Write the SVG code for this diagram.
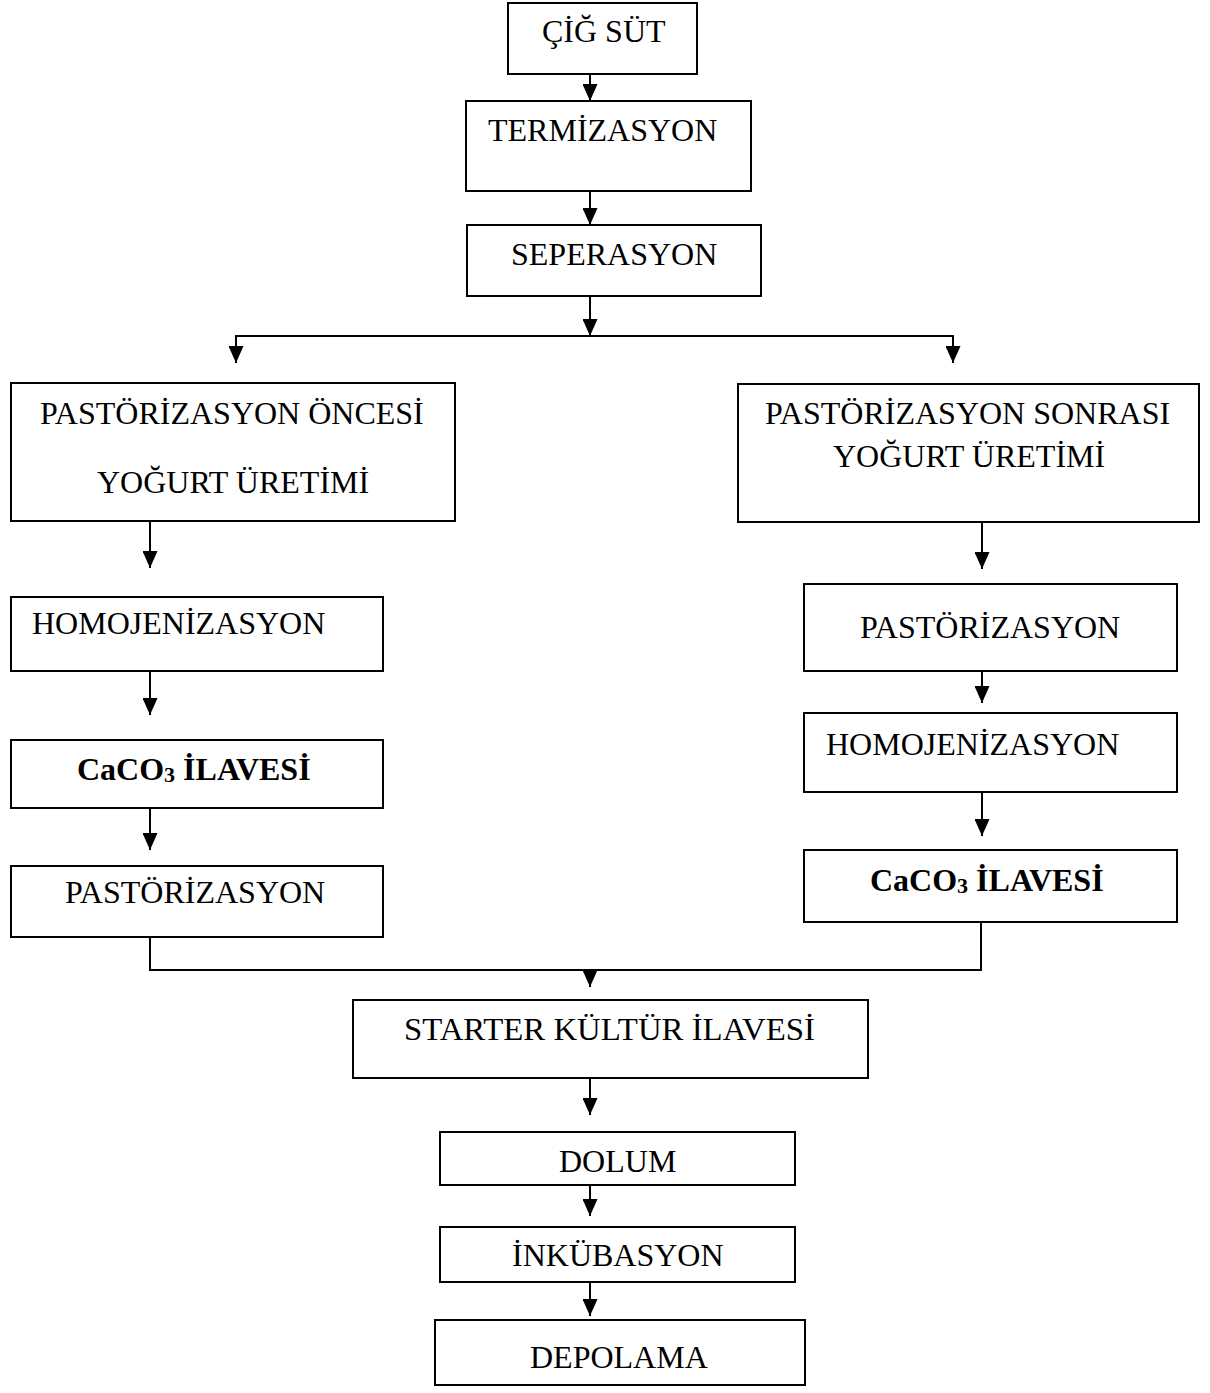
<svg xmlns="http://www.w3.org/2000/svg" width="1210" height="1393" viewBox="0 0 1210 1393">
<style>
.box{fill:#fff;stroke:#000;stroke-width:2}
.t{font-family:"Liberation Serif","Times New Roman",serif;font-size:32px;fill:#000}
.b{font-weight:bold}
.c{fill:none;stroke:#000;stroke-width:2}
</style>
<defs>
<marker id="ah" viewBox="0 0 17 15" refX="17" refY="7.5" markerWidth="17" markerHeight="15" markerUnits="userSpaceOnUse" orient="auto">
<path d="M0,0 L17,7.5 L0,15 Z" fill="#000"/>
</marker>
</defs>
<rect width="1210" height="1393" fill="#fff"/>
<g id="connectors">
<line class="c" x1="590" y1="74" x2="590" y2="101" marker-end="url(#ah)"/>
<line class="c" x1="590" y1="191" x2="590" y2="225" marker-end="url(#ah)"/>
<line class="c" x1="590" y1="296" x2="590" y2="336" marker-end="url(#ah)"/>
<polyline class="c" points="236,336 953,336"/>
<line class="c" x1="236" y1="335" x2="236" y2="363" marker-end="url(#ah)"/>
<line class="c" x1="953" y1="335" x2="953" y2="363" marker-end="url(#ah)"/>
<line class="c" x1="150" y1="521" x2="150" y2="568" marker-end="url(#ah)"/>
<line class="c" x1="150" y1="671" x2="150" y2="715" marker-end="url(#ah)"/>
<line class="c" x1="150" y1="808" x2="150" y2="850" marker-end="url(#ah)"/>
<line class="c" x1="982" y1="522" x2="982" y2="569" marker-end="url(#ah)"/>
<line class="c" x1="982" y1="671" x2="982" y2="703" marker-end="url(#ah)"/>
<line class="c" x1="982" y1="792" x2="982" y2="836" marker-end="url(#ah)"/>
<polyline class="c" points="150,937 150,970 981,970 981,922"/>
<line class="c" x1="590" y1="970" x2="590" y2="987" marker-end="url(#ah)"/>
<line class="c" x1="590" y1="1078" x2="590" y2="1115" marker-end="url(#ah)"/>
<line class="c" x1="590" y1="1185" x2="590" y2="1216" marker-end="url(#ah)"/>
<line class="c" x1="590" y1="1282" x2="590" y2="1316" marker-end="url(#ah)"/>
</g>
<g id="n-cig-sut"><rect class="box" x="508" y="3" width="189" height="71"/><text class="t" x="542" y="42">ÇİĞ SÜT</text></g>
<g id="n-termizasyon"><rect class="box" x="466" y="101" width="285" height="90"/><text class="t" x="488" y="141">TERMİZASYON</text></g>
<g id="n-seperasyon"><rect class="box" x="467" y="225" width="294" height="71"/><text class="t" x="511" y="265">SEPERASYON</text></g>
<g id="n-oncesi"><rect class="box" x="11" y="383" width="444" height="138"/><text class="t" x="40" y="424">PASTÖRİZASYON ÖNCESİ</text><text class="t" x="97" y="493">YOĞURT ÜRETİMİ</text></g>
<g id="n-homo-l"><rect class="box" x="11" y="597" width="372" height="74"/><text class="t" x="32" y="634">HOMOJENİZASYON</text></g>
<g id="n-caco3-l"><rect class="box" x="11" y="740" width="372" height="68"/><text class="t b" x="77" y="780">CaCO<tspan font-size="22" dy="2">3</tspan><tspan dy="-2"> İLAVESİ</tspan></text></g>
<g id="n-past-l"><rect class="box" x="11" y="866" width="372" height="71"/><text class="t" x="65" y="903">PASTÖRİZASYON</text></g>
<g id="n-sonrasi"><rect class="box" x="738" y="384" width="461" height="138"/><text class="t" x="765" y="424">PASTÖRİZASYON SONRASI</text><text class="t" x="833" y="467">YOĞURT ÜRETİMİ</text></g>
<g id="n-past-r"><rect class="box" x="804" y="584" width="373" height="87"/><text class="t" x="860" y="638">PASTÖRİZASYON</text></g>
<g id="n-homo-r"><rect class="box" x="804" y="713" width="373" height="79"/><text class="t" x="826" y="755">HOMOJENİZASYON</text></g>
<g id="n-caco3-r"><rect class="box" x="804" y="850" width="373" height="72"/><text class="t b" x="870" y="891">CaCO<tspan font-size="22" dy="2">3</tspan><tspan dy="-2"> İLAVESİ</tspan></text></g>
<g id="n-starter"><rect class="box" x="353" y="1000" width="515" height="78"/><text class="t" x="404" y="1040" font-size="34" textLength="411" lengthAdjust="spacingAndGlyphs">STARTER KÜLTÜR İLAVESİ</text></g>
<g id="n-dolum"><rect class="box" x="440" y="1132" width="355" height="53"/><text class="t" x="559" y="1172">DOLUM</text></g>
<g id="n-inkubasyon"><rect class="box" x="440" y="1227" width="355" height="55"/><text class="t" x="512" y="1266">İNKÜBASYON</text></g>
<g id="n-depolama"><rect class="box" x="435" y="1320" width="370" height="65"/><text class="t" x="530" y="1368">DEPOLAMA</text></g>
</svg>
